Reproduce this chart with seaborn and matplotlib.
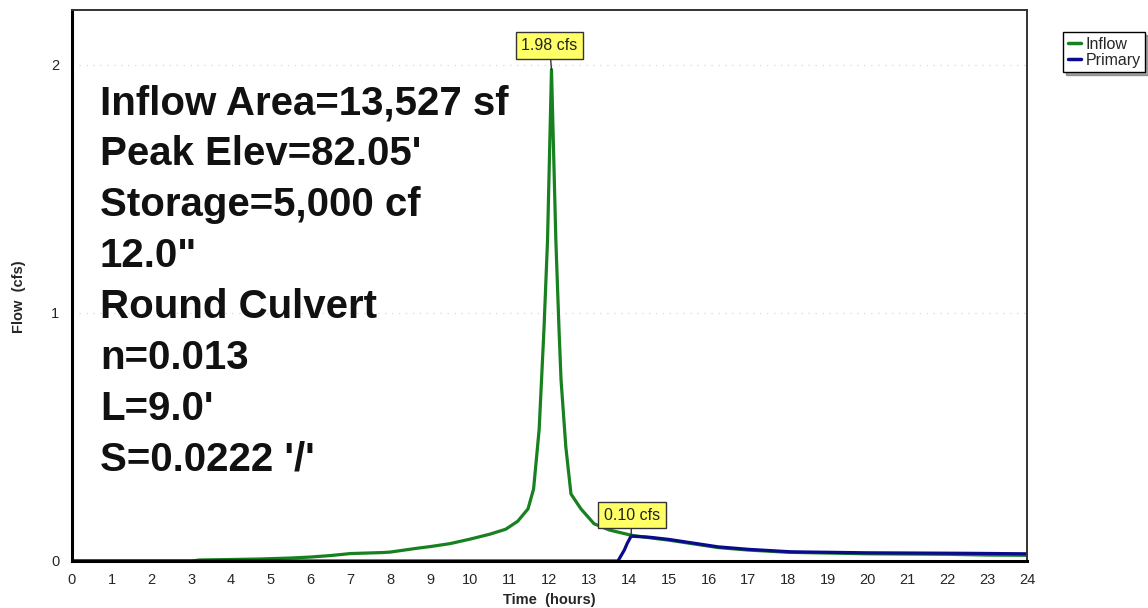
import matplotlib
matplotlib.use("Agg")
import matplotlib.pyplot as plt
import numpy as np
import pandas as pd
import seaborn as sns

# Hydrograph values (time in hours, flow in cfs)
inflow_time = [0.0, 3.0, 3.2, 4.0, 4.7, 5.5, 6.0, 6.5, 7.0, 7.8, 8.0, 8.7, 9.0, 9.5,
               10.0, 10.5, 10.9, 11.2, 11.46, 11.6, 11.74, 11.86, 11.95, 12.05,
               12.16, 12.24, 12.29, 12.41, 12.54, 12.79, 13.12, 13.5, 14.05, 14.5,
               15.0, 16.24, 17.0, 18.0, 19.0, 20.0, 21.0, 22.0, 23.0, 24.0]
inflow_flow = [0.0, 0.0, 0.004, 0.006, 0.008, 0.012, 0.016, 0.022, 0.030, 0.034, 0.036,
               0.052, 0.058, 0.070, 0.088, 0.108, 0.128, 0.160, 0.210, 0.290, 0.530,
               0.930, 1.290, 1.980, 1.290, 0.930, 0.730, 0.460, 0.270, 0.210, 0.150,
               0.125, 0.104, 0.094, 0.084, 0.054, 0.044, 0.035, 0.032, 0.029, 0.028,
               0.027, 0.024, 0.023]

primary_time = [0.0, 13.72, 13.88, 13.95, 14.05, 14.5, 15.0, 16.24, 17.0, 18.08,
                20.0, 22.5, 24.0]
primary_flow = [0.0, 0.0, 0.044, 0.070, 0.100, 0.096, 0.087, 0.057, 0.047, 0.037,
                0.033, 0.031, 0.029]

hours = list(range(0, 25))
flow_ticks = [0, 1, 2]

peak_labels = [("1.98 cfs", 12.05, 1.98, 12.0, 2.077),
               ("0.10 cfs", 14.05, 0.10, 14.07, 0.185)]

info_lines = ["Inflow Area=13,527 sf", "Peak Elev=82.05'", "Storage=5,000 cf",
              "12.0\"", "Round Culvert", "n=0.013", "L=9.0'", "S=0.0222 '/'"]

df = pd.concat([
    pd.DataFrame({"Time": inflow_time, "Flow": inflow_flow, "Series": "Inflow"}),
    pd.DataFrame({"Time": primary_time, "Flow": primary_flow, "Series": "Primary"}),
])

sns.set_style("white")
plt.rcParams["font.family"] = ["Liberation Sans", "DejaVu Sans"]

fig = plt.figure(figsize=(11.48, 6.08), dpi=100)
ax = fig.add_axes([72 / 1148, 1 - 561 / 608, 955 / 1148, 551 / 608])

colors = {"Inflow": "#17801f", "Primary": "#0a0a8c"}
sns.lineplot(data=df, x="Time", y="Flow", hue="Series", palette=colors,
             linewidth=2.3, ax=ax, legend=False, sort=False)

ax.set_xlim(0, 24)
ax.set_ylim(0, 2.22)
ax.set_xticks(hours)
ax.set_yticks(flow_ticks)
ax.tick_params(axis="both", labelsize=10.5, length=3, width=0.8, color="#999999",
               direction="out", pad=6)
ax.grid(True, axis="y", color="#dddddd", linestyle=(0, (1, 4)), linewidth=1.0)

for side in ["left", "bottom"]:
    ax.spines[side].set_color("black")
    ax.spines[side].set_linewidth(2.2)
for side in ["top", "right"]:
    ax.spines[side].set_color("#333333")
    ax.spines[side].set_linewidth(1.4)

ax.set_xlabel("Time  (hours)", fontsize=10.5, fontweight="bold", labelpad=4)
ax.set_ylabel("Flow  (cfs)", fontsize=10.5, fontweight="bold")
ax.yaxis.set_label_coords(-0.048, 0.48)

for text, x, y, tx, ty in peak_labels:
    ax.annotate(text, xy=(x, y), xytext=(tx, ty), ha="center", va="center",
                fontsize=11.5, color="#222222",
                bbox=dict(boxstyle="square,pad=0.35", fc="#ffff66", ec="#333333", lw=1),
                arrowprops=dict(arrowstyle="-", color="#333333", lw=1, shrinkA=0, shrinkB=0))

ax.text(0.7, 1.92, "\n".join(info_lines), fontsize=29, fontweight="bold",
        color="#111111", ha="left", va="top", linespacing=1.43)

handles = [plt.Line2D([], [], color=colors[s], lw=2.5) for s in ["Inflow", "Primary"]]
leg = fig.legend(handles, ["Inflow", "Primary"], loc="upper left",
                 bbox_to_anchor=(1055 / 1148, 1 - 24 / 608), fontsize=11.5,
                 handlelength=0.8, handletextpad=0.3, labelspacing=0.05,
                 borderpad=0.3, fancybox=False, shadow=True, frameon=True)
leg.get_frame().set_edgecolor("black")
leg.get_frame().set_linewidth(1.0)

fig.savefig("out.png", dpi=100)
